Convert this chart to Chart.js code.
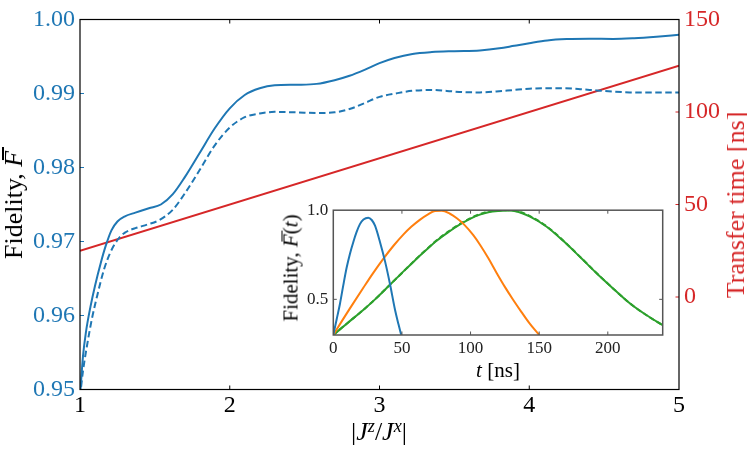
<!DOCTYPE html>
<html>
<head>
<meta charset="utf-8">
<script src="https://cdn.jsdelivr.net/npm/chart.js@4.4.1/dist/chart.umd.min.js"></script>
<style>
html,body{margin:0;padding:0;background:#fff;}
#wrap{position:relative;width:747px;height:449px;overflow:hidden;background:#fff;}
#main{position:absolute;left:0;top:0;}
#insetBox{position:absolute;left:280px;top:195px;width:400px;height:190px;}
.t{position:absolute;white-space:nowrap;font-family:"Liberation Serif","Times New Roman",serif;line-height:1;color:#000;}
.rot{transform:translate(-50%,-50%) rotate(-90deg);}
.ctr{transform:translate(-50%,-50%);}
.bar{position:relative;display:inline-block;}
.bar::after{content:"";position:absolute;left:0.28em;width:0.5em;top:0.04em;height:0.065em;background:currentColor;}
sup{font-size:0.7em;vertical-align:0.45em;line-height:0;}
</style>
</head>
<body>
<div id="wrap">
  <canvas id="main" width="747" height="449" style="width:747px;height:449px"></canvas>
  <div id="insetBox"><canvas id="inset" width="400" height="190" style="width:400px;height:190px"></canvas></div>
  <div class="t rot" style="left:14px;top:204.5px;font-size:26px;">Fidelity, <i class="bar">F</i></div>
  <div class="t rot" style="left:736px;top:204.5px;font-size:26px;color:#d62728;">Transfer time [ns]</div>
  <div class="t ctr" style="left:379px;top:432px;font-size:26px;">|<i>J</i><sup><i>z</i></sup>/<i>J</i><sup><i>x</i></sup>|</div>
  <div class="t rot" style="left:291px;top:267.5px;font-size:21px;">Fidelity, <i class="bar">F</i>(<i>t</i>)</div>
  <div class="t ctr" style="left:498px;top:370px;font-size:21px;"><i>t</i> [ns]</div>
</div>
<script>
// ---------- main chart data ----------
const xTicks = [1, 2, 3, 4, 5];
const leftTicks = [0.95, 0.96, 0.97, 0.98, 0.99, 1.00];
const rightTicks = [0, 50, 100, 150];

const solidX = [1.00,1.02,1.04,1.07,1.10,1.14,1.17,1.21,1.25,1.30,1.37,1.46,1.54,1.62,1.70,1.80,1.90,2.00,2.10,2.20,2.30,2.45,2.58,2.70,2.80,2.90,3.00,3.10,3.22,3.35,3.50,3.67,3.80,3.90,4.00,4.12,4.25,4.40,4.56,4.70,4.85,5.00];
const solidF = [0.9490,0.9545,0.9578,0.9612,0.9640,0.9672,0.9693,0.9715,0.9727,0.9734,0.9739,0.9745,0.9750,0.9764,0.9787,0.9820,0.9853,0.9880,0.9898,0.9907,0.9911,0.99118,0.9913,0.9918,0.9924,0.9932,0.9941,0.9948,0.99535,0.9956,0.99572,0.99582,0.9961,0.99645,0.9968,0.99717,0.99735,0.9974,0.99738,0.99748,0.99768,0.99793];

const dashX = [1.00,1.02,1.05,1.08,1.12,1.16,1.20,1.25,1.30,1.37,1.45,1.53,1.62,1.70,1.80,1.90,2.00,2.10,2.20,2.30,2.45,2.58,2.70,2.80,2.90,3.00,3.12,3.22,3.34,3.45,3.56,3.67,3.78,3.90,4.00,4.12,4.23,4.34,4.45,4.56,4.67,4.80,5.00];
const dashF = [0.9490,0.9525,0.9563,0.9596,0.9631,0.9662,0.9684,0.9702,0.9712,0.9718,0.9723,0.9729,0.9743,0.9765,0.9797,0.9830,0.9854,0.9868,0.9873,0.98752,0.98745,0.98737,0.98745,0.9879,0.9887,0.98955,0.99005,0.99036,0.99048,0.99035,0.99018,0.99015,0.99027,0.99048,0.99064,0.99072,0.99072,0.99058,0.99041,0.99025,0.99015,0.99012,0.99014];

const redX = [1, 5];
const redT = [25, 125];

// ---------- inset data ----------
const insetXTicks = [0, 50, 100, 150, 200];
const insetYTicks = [0.5, 1.0];

const blueT = [0,2.5,4.9,7.3,9.7,12.1,14.6,17,19.4,22,25.5,28,30.4,34,37.7,41.3,45,47.5,50];
const blueF = [0.30,0.39,0.477,0.58,0.677,0.755,0.822,0.878,0.922,0.948,0.958,0.945,0.913,0.822,0.713,0.586,0.44,0.36,0.285];

const orangeT = [0,6,12,22,29,36.4,44,51,57,63,69,74,79,85,90,95,102,107,113,119,125,131,137,143,150];
const orangeF = [0.30,0.375,0.448,0.566,0.647,0.727,0.802,0.863,0.908,0.946,0.977,0.995,0.997,0.98,0.955,0.922,0.86,0.805,0.73,0.648,0.57,0.498,0.43,0.365,0.30];

const greenT = [0,10,21.8,30,41.3,50,58.3,67,75.3,84,92.3,100,106.8,113,120,127,135,143,155,167.5,180,192,204,216,228,240];
const greenF = [0.30,0.365,0.44,0.497,0.582,0.648,0.71,0.772,0.829,0.878,0.92,0.953,0.975,0.989,0.996,0.998,0.99,0.965,0.91,0.828,0.736,0.645,0.56,0.478,0.412,0.355];
const greenDashF = [0.30,0.365,0.44,0.497,0.582,0.648,0.711,0.774,0.831,0.881,0.923,0.956,0.978,0.992,0.999,1.0,0.993,0.968,0.912,0.83,0.737,0.646,0.56,0.478,0.412,0.355];

// ---------- helpers ----------
const pts = (xs, ys) => xs.map((x, i) => ({x: x, y: ys[i]}));
const FONT = "'Liberation Serif', 'Times New Roman', serif";

const framePlugin = {
  id: 'frame',
  afterDraw(chart, args, opts) {
    const ctx = chart.ctx, a = chart.chartArea;
    ctx.save();
    (opts.ticks || []).forEach(t => {
      const s = chart.scales[t.scale];
      ctx.strokeStyle = t.color;
      ctx.lineWidth = t.width || 1;
      ctx.beginPath();
      t.values.forEach(v => {
        const p = s.getPixelForValue(v);
        t.sides.forEach(side => {
          if (side === 'bottom') { ctx.moveTo(p, a.bottom); ctx.lineTo(p, a.bottom - t.len); }
          if (side === 'top') { ctx.moveTo(p, a.top); ctx.lineTo(p, a.top + t.len); }
          if (side === 'left') { ctx.moveTo(a.left, p); ctx.lineTo(a.left + t.len, p); }
          if (side === 'right') { ctx.moveTo(a.right, p); ctx.lineTo(a.right - t.len, p); }
        });
      });
      ctx.stroke();
    });
    ctx.strokeStyle = opts.color;
    ctx.lineWidth = opts.lineWidth;
    ctx.strokeRect(a.left, a.top, a.right - a.left, a.bottom - a.top);
    ctx.restore();
  }
};

const lineDs = (data, color, extra) => Object.assign({
  data: data, borderColor: color, backgroundColor: color, borderWidth: 2,
  pointRadius: 0, fill: false, cubicInterpolationMode: 'monotone'
}, extra || {});

function build() {
  // ---------- main chart ----------
  new Chart(document.getElementById('main'), {
    type: 'line',
    data: {
      datasets: [
        lineDs(pts(solidX, solidF), '#1f77b4', {yAxisID: 'y'}),
        lineDs(pts(dashX, dashF), '#1f77b4', {yAxisID: 'y', borderDash: [6.5, 3.5]}),
        lineDs(pts(redX, redT), '#d62728', {yAxisID: 'y2', cubicInterpolationMode: 'default', tension: 0})
      ]
    },
    options: {
      responsive: false, animation: false, events: [],
      layout: {padding: {top: 19.5, left: 0, right: 0, bottom: 0}},
      plugins: {
        legend: {display: false}, tooltip: {enabled: false},
        frame: {
          color: '#000', lineWidth: 1.2,
          ticks: [
            {scale: 'x', values: [2, 3, 4], sides: ['top', 'bottom'], color: '#000', len: 4},
            {scale: 'y', values: [0.96, 0.97, 0.98, 0.99], sides: ['left'], color: '#1f77b4', len: 4},
            {scale: 'y2', values: [0, 50, 100], sides: ['right'], color: '#d62728', len: 3.5}
          ]
        }
      },
      scales: {
        x: {
          type: 'linear', min: 1, max: 5,
          grid: {display: false, drawTicks: false}, border: {display: false},
          afterBuildTicks: s => { s.ticks = xTicks.map(v => ({value: v})); },
          afterFit: s => { s.height = 59.5; },
          ticks: {color: '#000', font: {family: FONT, size: 24}, padding: 2, maxRotation: 0, autoSkip: false,
                  callback: v => String(v)}
        },
        y: {
          type: 'linear', position: 'left', min: 0.95, max: 1.0,
          grid: {display: false, drawTicks: false}, border: {display: false},
          afterBuildTicks: s => { s.ticks = leftTicks.map(v => ({value: v})); },
          afterFit: s => { s.width = 80; },
          ticks: {color: '#1f77b4', font: {family: FONT, size: 24}, padding: 5, autoSkip: false,
                  callback: v => Number(v).toFixed(2)}
        },
        y2: {
          type: 'linear', position: 'right', min: -50, max: 150,
          grid: {display: false, drawTicks: false}, border: {display: false},
          afterBuildTicks: s => { s.ticks = rightTicks.map(v => ({value: v})); },
          afterFit: s => { s.width = 68; },
          ticks: {color: '#d62728', font: {family: FONT, size: 24}, padding: 5, autoSkip: false,
                  callback: v => String(v)}
        }
      }
    },
    plugins: [framePlugin]
  });

  // ---------- inset chart ----------
  new Chart(document.getElementById('inset'), {
    type: 'line',
    data: {
      datasets: [
        lineDs(pts(blueT, blueF), '#1f77b4'),
        lineDs(pts(orangeT, orangeF), '#ff7f0e'),
        lineDs(pts(greenT, greenF), '#2ca02c'),
        lineDs(pts(greenT, greenDashF), '#2ca02c', {borderDash: [5, 3]})
      ]
    },
    options: {
      responsive: false, animation: false, events: [],
      layout: {padding: {top: 12, right: 17.3, left: 0, bottom: 0}},
      plugins: {
        legend: {display: false}, tooltip: {enabled: false},
        frame: {
          color: '#555', lineWidth: 1.5,
          ticks: [
            {scale: 'x', values: [50, 100, 150, 200], sides: ['top', 'bottom'], color: '#555', len: 3.5},
            {scale: 'y', values: [0.5], sides: ['left', 'right'], color: '#555', len: 3.5}
          ]
        }
      },
      scales: {
        x: {
          type: 'linear', min: 0, max: 240,
          grid: {display: false, drawTicks: false}, border: {display: false},
          afterBuildTicks: s => { s.ticks = insetXTicks.map(v => ({value: v})); },
          afterFit: s => { s.height = 50; },
          ticks: {color: '#222', font: {family: FONT, size: 17}, padding: 3, maxRotation: 0, autoSkip: false,
                  callback: v => String(v)}
        },
        y: {
          type: 'linear', min: 0.3, max: 1.0,
          grid: {display: false, drawTicks: false}, border: {display: false},
          afterBuildTicks: s => { s.ticks = insetYTicks.map(v => ({value: v})); },
          afterFit: s => { s.width = 53.3; },
          ticks: {color: '#222', font: {family: FONT, size: 17}, padding: 5, autoSkip: false,
                  callback: v => Number(v).toFixed(1)}
        }
      }
    },
    plugins: [framePlugin]
  });
}

let built = false;
function go() { if (!built) { built = true; build(); } }
if (document.fonts && document.fonts.load) {
  Promise.all([
    document.fonts.load('24px "Liberation Serif"', '0123456789.'),
    document.fonts.load('17px "Liberation Serif"', '0123456789.')
  ]).then(go, go);
  setTimeout(go, 800);
} else {
  go();
}
</script>
</body>
</html>
